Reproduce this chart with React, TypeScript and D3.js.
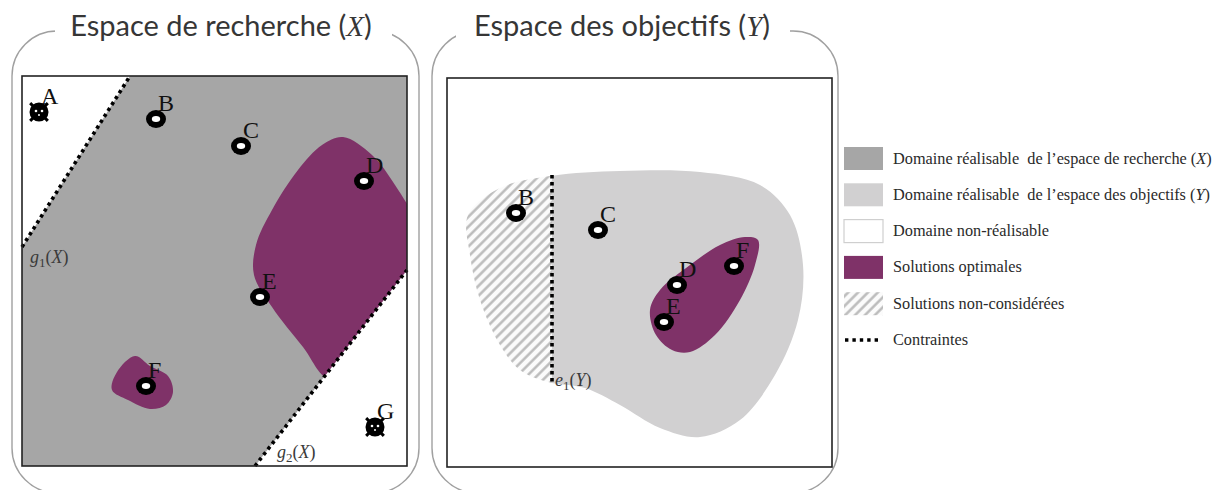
import React, { useEffect, useRef } from 'react';
import * as d3 from 'd3';

type Pt = [number, number];

const W = 1222;
const H = 490;

// couleurs
const GRAY_X = '#a6a6a6';
const GRAY_Y = '#d1d0d1';
const PURPLE = '#7f3268';

// ---- Espace de recherche (X), coordonnées locales au carré (385 x 390)
const feasibleX: Pt[] = [[108, 0], [385, 0], [385, 194], [233, 390], [0, 390], [0, 171]];
const constraintFromX: Pt[] = [[0, 171], [233, 390]];
const constraintToX: Pt[] = [[108, 0], [385, 194]];
const constraintLabelX: Pt[] = [[8, 187], [255, 382]];
const constraintSubX = ['1', '2'];
const optimalBigX: Pt[] = [
  [321, 61], [350, 79], [373, 109], [398, 154], [408, 204], [338, 284], [306, 302],
  [281, 271], [250, 231], [232, 199], [234, 169], [250, 134], [276, 94], [300, 69],
];
const optimalSmallX: Pt[] = [
  [113, 280], [128, 290], [146, 300], [151, 316], [144, 329], [128, 333], [106, 324], [90, 314], [95, 296],
];
const pointIdsX = ['A', 'B', 'C', 'D', 'E', 'F', 'G'];
const pointPosX: Pt[] = [[17, 36], [134, 43], [219, 70], [342, 105], [238, 221], [124, 310], [353, 351]];
const infeasibleIds = ['A', 'G'];

// ---- Espace des objectifs (Y), coordonnées locales au carré (385 x 389)
const feasibleY: Pt[] = [
  [21, 137], [53, 110], [103, 98], [173, 93], [253, 94], [313, 107], [343, 137], [356, 187],
  [351, 242], [328, 297], [293, 342], [253, 359], [213, 350], [173, 327], [138, 310], [101, 304],
  [73, 292], [53, 267], [33, 222], [23, 177],
];
const constraintY = 105;
const constraintYRange: Pt = [97, 305];
const constraintLabelY: Pt = [108, 308];
const optimalY: Pt[] = [
  [311, 162], [298, 159], [273, 167], [243, 187], [213, 212], [203, 232], [209, 257],
  [225, 272], [243, 274], [268, 257], [293, 222], [308, 187],
];
const pointIdsY = ['B', 'C', 'D', 'E', 'F'];
const pointPosY: Pt[] = [[69, 135], [151, 152], [230, 207], [217, 244], [287, 188]];

// ---- Légende
const legendLabels = [
  'Domaine réalisable  de l’espace de recherche (X)',
  'Domaine réalisable  de l’espace des objectifs (Y)',
  'Domaine non-réalisable',
  'Solutions optimales',
  'Solutions non-considérées',
  'Contraintes',
];
const legendKinds = ['fill', 'fill', 'fill', 'fill', 'hatch', 'dots'];
const legendColors = [GRAY_X, GRAY_Y, '#ffffff', PURPLE, 'url(#hatch)', '#000'];

const titles = ['Espace de recherche (', 'Espace des objectifs ('];
const titleVars = ['X', 'Y'];

const SERIF = "'Liberation Serif', 'Times New Roman', serif";
const SANS = "Lato, 'Open Sans', sans-serif";

const App: React.FC = () => {
  const svgRef = useRef<SVGSVGElement>(null);

  useEffect(() => {
    if (!svgRef.current) return;
    const svg = d3.select(svgRef.current);
    svg.selectAll('*').remove();

    svg.append('rect').attr('width', W).attr('height', H).style('fill', '#fff');

    const defs = svg.append('defs');
    const pat = defs
      .append('pattern')
      .attr('id', 'hatch')
      .attr('width', 7)
      .attr('height', 7)
      .attr('patternUnits', 'userSpaceOnUse')
      .attr('patternTransform', 'rotate(45)');
    pat.append('rect').attr('width', 7).attr('height', 7).style('fill', '#fbfbfb');
    pat
      .append('line')
      .attr('x1', 1.5)
      .attr('x2', 1.5)
      .attr('y1', 0)
      .attr('y2', 7)
      .style('stroke', '#b8b8b8')
      .style('stroke-width', 2.4);

    // panneaux
    const xLeft = d3.scaleLinear().domain([0, 385]).range([22, 407]);
    const yLeft = d3.scaleLinear().domain([0, 390]).range([76, 466]);
    const xRight = d3.scaleLinear().domain([0, 385]).range([447, 832]);
    const yRight = d3.scaleLinear().domain([0, 389]).range([78, 467]);

    // cadres arrondis + titres
    const frames = [
      { x0: 12, x1: 419, gap: [55, 392], cx: 221 },
      { x0: 432, x1: 838, gap: [456, 790], cx: 622 },
    ];
    frames.forEach((f, i) => {
      svg
        .append('rect')
        .attr('x', f.x0)
        .attr('y', 31)
        .attr('width', f.x1 - f.x0)
        .attr('height', 462)
        .attr('rx', 45)
        .style('fill', 'none')
        .style('stroke', '#a0a0a0')
        .style('stroke-width', 1.4);
      svg
        .append('rect')
        .attr('x', f.gap[0])
        .attr('y', 20)
        .attr('width', f.gap[1] - f.gap[0])
        .attr('height', 20)
        .style('fill', '#fff');
      const t = svg
        .append('text')
        .attr('x', f.cx)
        .attr('y', 36)
        .attr('text-anchor', 'middle')
        .style('font-family', SANS)
        .style('font-size', '29px')
        .style('fill', '#363636');
      t.append('tspan').text(titles[i]);
      t.append('tspan')
        .style('font-family', SERIF)
        .style('font-style', 'italic')
        .text(titleVars[i]);
      t.append('tspan').text(')');
    });

    const line = (xs: d3.ScaleLinear<number, number>, ys: d3.ScaleLinear<number, number>) =>
      d3
        .line<Pt>()
        .x((d) => xs(d[0]))
        .y((d) => ys(d[1]));
    const blob = (xs: d3.ScaleLinear<number, number>, ys: d3.ScaleLinear<number, number>) =>
      d3
        .line<Pt>()
        .x((d) => xs(d[0]))
        .y((d) => ys(d[1]))
        .curve(d3.curveCatmullRomClosed.alpha(0.5));

    // ---------- panneau X
    const lineL = line(xLeft, yLeft);
    defs
      .append('clipPath')
      .attr('id', 'clipFeasX')
      .append('path')
      .attr('d', lineL(feasibleX) + 'Z');

    svg
      .append('rect')
      .attr('x', xLeft(0))
      .attr('y', yLeft(0))
      .attr('width', xLeft(385) - xLeft(0))
      .attr('height', yLeft(390) - yLeft(0))
      .style('fill', '#fff');
    svg
      .append('path')
      .attr('d', lineL(feasibleX) + 'Z')
      .style('fill', GRAY_X);

    const blobL = blob(xLeft, yLeft);
    const optG = svg.append('g').attr('clip-path', 'url(#clipFeasX)');
    [optimalBigX, optimalSmallX].forEach((b) =>
      optG.append('path').attr('d', blobL(b)).style('fill', PURPLE),
    );

    constraintFromX.forEach((p, i) => {
      svg
        .append('line')
        .attr('x1', xLeft(p[0]))
        .attr('y1', yLeft(p[1]))
        .attr('x2', xLeft(constraintToX[i][0]))
        .attr('y2', yLeft(constraintToX[i][1]))
        .style('stroke', '#000')
        .style('stroke-width', 3.6)
        .style('stroke-dasharray', '3.4 3.6');
      const t = svg
        .append('text')
        .attr('x', xLeft(constraintLabelX[i][0]))
        .attr('y', yLeft(constraintLabelX[i][1]))
        .style('font-family', SERIF)
        .style('font-size', '18px')
        .style('fill', '#3a3a3a');
      t.append('tspan').style('font-style', 'italic').text('g');
      t.append('tspan').attr('dy', 4).style('font-size', '13px').text(constraintSubX[i]);
      t.append('tspan').attr('dy', -4).text('(');
      t.append('tspan').style('font-style', 'italic').text('X');
      t.append('tspan').text(')');
    });

    svg
      .append('rect')
      .attr('x', xLeft(0))
      .attr('y', yLeft(0))
      .attr('width', xLeft(385) - xLeft(0))
      .attr('height', yLeft(390) - yLeft(0))
      .style('fill', 'none')
      .style('stroke', '#222')
      .style('stroke-width', 1.6);

    // ---------- panneau Y
    svg
      .append('rect')
      .attr('x', xRight(0))
      .attr('y', yRight(0))
      .attr('width', xRight(385) - xRight(0))
      .attr('height', yRight(389) - yRight(0))
      .style('fill', '#fff')
      .style('stroke', '#222')
      .style('stroke-width', 1.6);

    const blobR = blob(xRight, yRight);
    defs
      .append('clipPath')
      .attr('id', 'clipHatch')
      .append('rect')
      .attr('x', 0)
      .attr('y', 0)
      .attr('width', xRight(constraintY))
      .attr('height', H);
    defs
      .append('clipPath')
      .attr('id', 'clipKept')
      .append('rect')
      .attr('x', xRight(constraintY))
      .attr('y', 0)
      .attr('width', W)
      .attr('height', H);

    svg
      .append('path')
      .attr('d', blobR(feasibleY))
      .attr('clip-path', 'url(#clipKept)')
      .style('fill', GRAY_Y);
    svg
      .append('path')
      .attr('d', blobR(feasibleY))
      .attr('clip-path', 'url(#clipHatch)')
      .style('fill', 'url(#hatch)');
    svg.append('path').attr('d', blobR(optimalY)).style('fill', PURPLE);

    svg
      .append('line')
      .attr('x1', xRight(constraintY))
      .attr('x2', xRight(constraintY))
      .attr('y1', yRight(constraintYRange[0]))
      .attr('y2', yRight(constraintYRange[1]))
      .style('stroke', '#000')
      .style('stroke-width', 3.6)
      .style('stroke-dasharray', '3.4 3.6');
    const te = svg
      .append('text')
      .attr('x', xRight(constraintLabelY[0]))
      .attr('y', yRight(constraintLabelY[1]))
      .style('font-family', SERIF)
      .style('font-size', '18px')
      .style('fill', '#3a3a3a');
    te.append('tspan').style('font-style', 'italic').text('e');
    te.append('tspan').attr('dy', 4).style('font-size', '13px').text('1');
    te.append('tspan').attr('dy', -4).text('(');
    te.append('tspan').style('font-style', 'italic').text('Y');
    te.append('tspan').text(')');

    // ---------- points
    const drawDonut = (x: number, y: number) => {
      svg.append('ellipse').attr('cx', x).attr('cy', y).attr('rx', 10).attr('ry', 9).style('fill', '#000');
      svg.append('ellipse').attr('cx', x).attr('cy', y).attr('rx', 4.2).attr('ry', 3).style('fill', '#fff');
    };
    const drawBug = (x: number, y: number) => {
      const g = svg.append('g').attr('transform', `translate(${x},${y})`);
      [45, 135, 225, 315].forEach((a) => {
        const r = (a * Math.PI) / 180;
        g.append('line')
          .attr('x1', 0)
          .attr('y1', 0)
          .attr('x2', Math.cos(r) * 12.5)
          .attr('y2', Math.sin(r) * 12.5)
          .style('stroke', '#000')
          .style('stroke-width', 3);
      });
      g.append('circle').attr('r', 9.5).style('fill', '#000');
      [-3, 3].forEach((dx) =>
        g.append('circle').attr('cx', dx).attr('cy', -1).attr('r', 1.3).style('fill', '#fff'),
      );
      g.append('circle').attr('cx', 0).attr('cy', 3).attr('r', 1).style('fill', '#fff');
    };
    const drawLabel = (x: number, y: number, s: string) => {
      svg
        .append('text')
        .attr('x', x + 2)
        .attr('y', y - 8)
        .style('font-family', SERIF)
        .style('font-size', '24px')
        .style('fill', '#111')
        .text(s);
    };

    pointIdsX.forEach((id, i) => {
      const x = xLeft(pointPosX[i][0]);
      const y = yLeft(pointPosX[i][1]);
      if (infeasibleIds.includes(id)) drawBug(x, y);
      else drawDonut(x, y);
      drawLabel(x, y, id);
    });
    pointIdsY.forEach((id, i) => {
      const x = xRight(pointPosY[i][0]);
      const y = yRight(pointPosY[i][1]);
      drawDonut(x, y);
      drawLabel(x, y, id);
    });

    // ---------- légende
    const rowY = d3.scalePoint<string>().domain(legendLabels).range([158.5, 340]);
    legendLabels.forEach((lab, i) => {
      const cy = rowY(lab)!;
      const kind = legendKinds[i];
      if (kind === 'dots') {
        svg
          .append('line')
          .attr('x1', 845)
          .attr('x2', 882)
          .attr('y1', cy)
          .attr('y2', cy)
          .style('stroke', '#000')
          .style('stroke-width', 3.4)
          .style('stroke-dasharray', '3.4 4');
      } else {
        svg
          .append('rect')
          .attr('x', 844)
          .attr('y', cy - 11.5)
          .attr('width', 39)
          .attr('height', 23)
          .style('fill', legendColors[i])
          .style('stroke', kind === 'fill' && i === 2 ? '#cfcfcf' : 'none')
          .style('stroke-width', 1.2);
      }
      const t = svg
        .append('text')
        .attr('x', 893)
        .attr('y', cy + 5)
        .style('font-family', SERIF)
        .style('font-size', '16.3px')
        .style('fill', '#2a2a2a')
        .style('white-space', 'pre');
      const m = lab.match(/^(.*\()([XY])(\))$/);
      if (m) {
        t.append('tspan').text(m[1]);
        t.append('tspan').style('font-style', 'italic').text(m[2]);
        t.append('tspan').text(m[3]);
      } else {
        t.text(lab);
      }
    });
  }, []);

  return (
    <svg
      ref={svgRef}
      width={W}
      height={H}
      style={{ position: 'absolute', left: 0, top: 0, display: 'block' }}
    />
  );
};

export default App;
